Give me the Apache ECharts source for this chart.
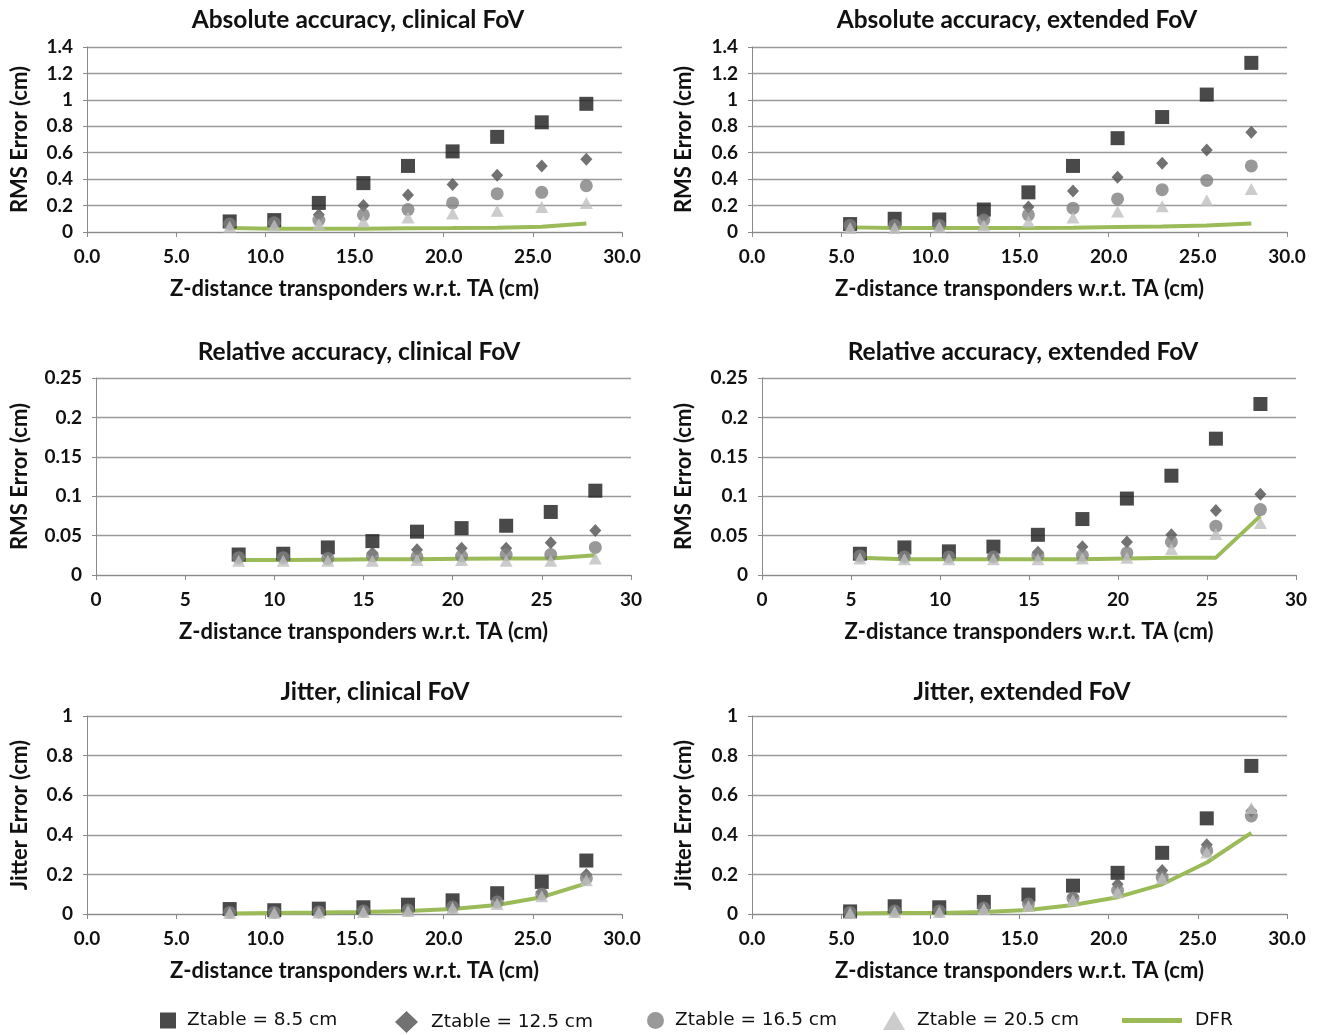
<!DOCTYPE html>
<html>
<head>
<meta charset="utf-8">
<script src="https://cdn.jsdelivr.net/npm/echarts@6/dist/echarts.min.js"></script>
<style>html,body{margin:0;padding:0;background:#fff}#c{width:1321px;height:1035px}</style>
</head>
<body>
<div id="c"></div>
<script>
// ---- data ----
const zClinical = [8, 10.5, 13, 15.5, 18, 20.5, 23, 25.5, 28];
const zExtended = [5.5, 8, 10.5, 13, 15.5, 18, 20.5, 23, 25.5, 28];

const seriesNames = ['Ztable = 8.5 cm', 'Ztable = 12.5 cm', 'Ztable = 16.5 cm', 'Ztable = 20.5 cm', 'DFR'];

const panelTitles = ['Absolute accuracy, clinical FoV', 'Absolute accuracy, extended FoV',
  'Relative accuracy, clinical FoV', 'Relative accuracy, extended FoV',
  'Jitter, clinical FoV', 'Jitter, extended FoV'];
const xAxisTitle = 'Z-distance transponders w.r.t. TA (cm)';
const yAxisTitles = ['RMS Error (cm)', 'RMS Error (cm)', 'RMS Error (cm)', 'RMS Error (cm)', 'Jitter Error (cm)', 'Jitter Error (cm)'];

// Absolute accuracy, clinical FoV
const absClin85  = [0.08, 0.09, 0.22, 0.37, 0.50, 0.61, 0.72, 0.83, 0.97];
const absClin125 = [0.06, 0.07, 0.13, 0.20, 0.28, 0.36, 0.43, 0.50, 0.55];
const absClin165 = [0.06, 0.07, 0.09, 0.13, 0.17, 0.22, 0.29, 0.30, 0.35];
const absClin205 = [0.04, 0.05, 0.06, 0.08, 0.11, 0.14, 0.16, 0.19, 0.22];
const absClinDFR = [0.03, 0.025, 0.025, 0.025, 0.028, 0.03, 0.033, 0.04, 0.065];

// Absolute accuracy, extended FoV
const absExt85  = [0.06, 0.10, 0.095, 0.17, 0.30, 0.50, 0.71, 0.87, 1.04, 1.28];
const absExt125 = [0.05, 0.06, 0.06, 0.12, 0.19, 0.31, 0.415, 0.52, 0.62, 0.755];
const absExt165 = [0.05, 0.05, 0.05, 0.09, 0.13, 0.18, 0.25, 0.32, 0.39, 0.50];
const absExt205 = [0.03, 0.03, 0.04, 0.05, 0.08, 0.11, 0.155, 0.195, 0.24, 0.325];
const absExtDFR = [0.035, 0.03, 0.03, 0.03, 0.03, 0.032, 0.038, 0.042, 0.05, 0.065];

// Relative accuracy, clinical FoV
const relClin85  = [0.026, 0.027, 0.035, 0.043, 0.055, 0.0595, 0.0625, 0.080, 0.107];
const relClin125 = [0.024, 0.024, 0.027, 0.028, 0.032, 0.034, 0.034, 0.041, 0.0565];
const relClin165 = [0.022, 0.022, 0.021, 0.024, 0.023, 0.024, 0.026, 0.026, 0.035];
const relClin205 = [0.018, 0.018, 0.018, 0.018, 0.019, 0.019, 0.018, 0.018, 0.021];
const relClinDFR = [0.019, 0.019, 0.0195, 0.020, 0.020, 0.0205, 0.021, 0.021, 0.025];

// Relative accuracy, extended FoV
const relExt85  = [0.027, 0.035, 0.030, 0.036, 0.051, 0.071, 0.097, 0.126, 0.173, 0.217];
const relExt125 = [0.025, 0.024, 0.024, 0.024, 0.029, 0.036, 0.042, 0.051, 0.082, 0.1025];
const relExt165 = [0.024, 0.023, 0.023, 0.023, 0.025, 0.025, 0.028, 0.042, 0.062, 0.083];
const relExt205 = [0.021, 0.020, 0.020, 0.020, 0.020, 0.021, 0.022, 0.033, 0.052, 0.066];
const relExtDFR = [0.022, 0.020, 0.020, 0.020, 0.020, 0.020, 0.021, 0.022, 0.022, 0.075];

// Jitter, clinical FoV
const jitClin85  = [0.025, 0.019, 0.027, 0.034, 0.047, 0.069, 0.105, 0.162, 0.27];
const jitClin125 = [0.01, 0.01, 0.015, 0.02, 0.03, 0.05, 0.08, 0.11, 0.20];
const jitClin165 = [0.008, 0.008, 0.01, 0.015, 0.02, 0.035, 0.06, 0.10, 0.18];
const jitClin205 = [0.005, 0.005, 0.008, 0.01, 0.015, 0.03, 0.05, 0.09, 0.17];
const jitClinDFR = [0.003, 0.005, 0.007, 0.01, 0.015, 0.025, 0.045, 0.085, 0.155];

// Jitter, extended FoV
const jitExt85  = [0.013, 0.039, 0.034, 0.061, 0.098, 0.143, 0.208, 0.309, 0.483, 0.748];
const jitExt125 = [0.01, 0.02, 0.02, 0.04, 0.06, 0.09, 0.15, 0.22, 0.35, 0.52];
const jitExt165 = [0.008, 0.015, 0.015, 0.03, 0.05, 0.08, 0.12, 0.185, 0.32, 0.495];
const jitExt205 = [0.005, 0.01, 0.01, 0.025, 0.04, 0.07, 0.11, 0.18, 0.31, 0.535];
const jitExtDFR = [0.003, 0.005, 0.005, 0.01, 0.02, 0.045, 0.085, 0.15, 0.26, 0.41];

const yMax = [1.4, 1.4, 0.25, 0.25, 1, 1];
const yStep = [0.2, 0.2, 0.05, 0.05, 0.2, 0.2];
const xDecimals = [1, 1, 0, 0, 1, 1];

const panels = [
  {z: zClinical, d: [absClin85, absClin125, absClin165, absClin205, absClinDFR]},
  {z: zExtended, d: [absExt85, absExt125, absExt165, absExt205, absExtDFR]},
  {z: zClinical, d: [relClin85, relClin125, relClin165, relClin205, relClinDFR]},
  {z: zExtended, d: [relExt85, relExt125, relExt165, relExt205, relExtDFR]},
  {z: zClinical, d: [jitClin85, jitClin125, jitClin165, jitClin205, jitClinDFR]},
  {z: zExtended, d: [jitExt85, jitExt125, jitExt165, jitExt205, jitExtDFR]}
];

// ---- layout / style ----
const grids = [
  {left: 87, top: 47, width: 535, height: 185},
  {left: 752, top: 47, width: 535, height: 185},
  {left: 96, top: 378, width: 535, height: 197},
  {left: 762, top: 378, width: 534, height: 197},
  {left: 87, top: 716, width: 535, height: 198},
  {left: 752, top: 716, width: 535, height: 198}
];
const titlePos = [[358, 8], [1017, 8], [359, 340], [1023, 340], [375, 680], [1022, 680]];
const yNameGap = [56, 57, 65, 67, 56, 57];

const colors = ['#1c1c1c', '#4f4f4f', '#7f7f7f', '#bfbfbf', '#9bbb59'];
const symbols = ['rect', 'diamond', 'circle', 'triangle'];
const symSizes = [[14, 14], [12, 13], [13, 13], [13, 12]];
const FONT = 'Lato, "Open Sans", sans-serif';
const GRIDC = '#9a9a9a';
const AXISC = '#8a8a8a';

const option = {
  animation: false,
  backgroundColor: '#fff',
  title: [], grid: [], xAxis: [], yAxis: [], series: [],
  legend: []
};

panels.forEach((p, i) => {
  option.title.push({
    text: panelTitles[i], left: titlePos[i][0], top: titlePos[i][1], textAlign: 'center', padding: 0,
    textStyle: {fontFamily: FONT, fontWeight: 'bold', fontSize: 24.5, color: '#111'}
  });
  option.grid.push(Object.assign({containLabel: false}, grids[i]));
  option.xAxis.push({
    gridIndex: i, type: 'value', min: 0, max: 30, interval: 5,
    name: xAxisTitle, nameLocation: 'middle', nameGap: 46,
    nameTextStyle: {fontFamily: FONT, fontWeight: 'bold', fontSize: 22, color: '#111'},
    axisLine: {onZero: false, lineStyle: {color: AXISC, width: 1}},
    axisTick: {show: true, length: 5, lineStyle: {color: AXISC}},
    axisLabel: {margin: 15, fontFamily: FONT, fontWeight: 'bold', fontSize: 19, color: '#111',
      formatter: v => v.toFixed(xDecimals[i])},
    splitLine: {show: false}
  });
  option.yAxis.push({
    gridIndex: i, type: 'value', min: 0, max: yMax[i], interval: yStep[i],
    name: yAxisTitles[i], nameLocation: 'middle', nameGap: yNameGap[i],
    nameTextStyle: {fontFamily: FONT, fontWeight: 'bold', fontSize: 22, color: '#111'},
    axisLine: {show: true, lineStyle: {color: AXISC, width: 1}},
    axisTick: {show: true, length: 4, lineStyle: {color: AXISC}},
    axisLabel: {margin: 14, fontFamily: FONT, fontWeight: 'bold', fontSize: 19, color: '#111'},
    splitLine: {show: true, lineStyle: {color: GRIDC, width: 1.3}}
  });
  // DFR line first (drawn beneath markers)
  option.series.push({
    name: seriesNames[4], type: 'line', xAxisIndex: i, yAxisIndex: i,
    data: p.z.map((x, k) => [x, p.d[4][k]]),
    showSymbol: false, symbol: 'none', smooth: false,
    lineStyle: {color: colors[4], width: 4}, itemStyle: {color: colors[4]}, z: 2
  });
  for (let s = 0; s < 4; s++) {
    option.series.push({
      name: seriesNames[s], type: 'scatter', xAxisIndex: i, yAxisIndex: i,
      data: p.z.map((x, k) => [x, p.d[s][k]]),
      symbol: symbols[s], symbolSize: symSizes[s],
      itemStyle: {color: colors[s]}, z: 3
    });
  }
});

// legends
const legendDefs = [
  {name: seriesNames[0], left: 160, icon: 'rect', w: 16, h: 16, pad: 6},
  {name: seriesNames[1], left: 395, icon: 'diamond', w: 23, h: 22, pad: 8},
  {name: seriesNames[2], left: 647, icon: 'circle', w: 17, h: 17, pad: 6},
  {name: seriesNames[3], left: 883, icon: 'triangle', w: 22, h: 19, pad: 7},
  {name: seriesNames[4], left: 1122, icon: 'rect', w: 60, h: 5, pad: 8}
];
legendDefs.forEach(l => {
  option.legend.push({
    data: [{name: l.name, icon: l.icon}], left: l.left, top: 1011, padding: 0,
    itemWidth: l.w, itemHeight: l.h, selectedMode: false,
    textStyle: {fontFamily: '"DejaVu Sans", Verdana, sans-serif', fontSize: 18.5, color: '#111', padding: [0, 0, 0, l.pad]}
  });
});

const chart = echarts.init(document.getElementById('c'), null, {renderer: 'canvas'});
chart.setOption(option);
</script>
</body>
</html>
